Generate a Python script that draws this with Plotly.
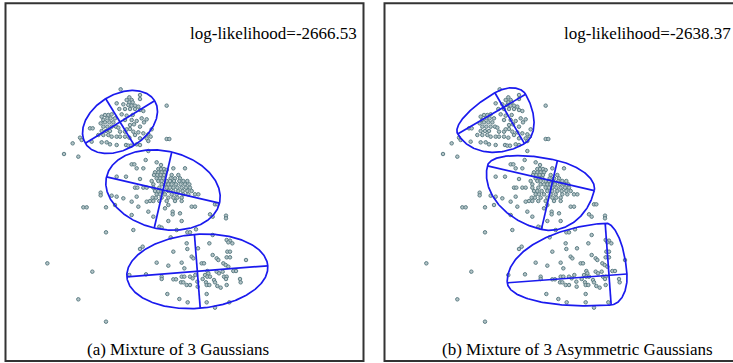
import numpy as np
import plotly.graph_objects as go

# ---- data points (same sample in both panels); units: x right, y downward ----
x_vals = [
    # upper group
    362, 388, 395, 380, 388, 398, 420, 420, 370, 385, 395, 405, 415, 350, 358, 375, 390, 405, 420, 430,
    305, 315, 325, 335, 310, 322, 332, 345, 302, 315, 328, 340, 310, 322, 335, 348, 270, 278, 305, 318,
    330, 360, 375, 390, 402, 410, 425, 432, 420, 390, 400, 415, 430, 445, 295, 310, 325, 335, 350, 360,
    375, 388, 405, 420, 440, 452, 240, 245, 275, 305, 320, 330, 350, 378, 385, 393, 410, 420, 445, 218,
    500, 500, 508, 365, 380, 398, 375, 395, 440, 455, 355, 380,
    # middle group
    445, 395, 403, 437, 470, 483, 430, 410, 520, 555, 475, 483, 492, 500, 465, 475, 485, 495,
    462, 472, 482, 492, 515, 535,
    470, 480, 490, 512, 525, 540,
    455, 475, 485, 500, 510, 522, 538, 550, 562,
    460, 485, 495, 505, 515, 528, 542, 555, 568,
    460, 478, 500, 510, 520, 532, 545, 558, 570,
    465, 475, 488, 505, 520, 535, 548, 562, 575,
    470, 480, 495, 515, 530, 550, 565, 585, 595,
    458, 468, 485, 505, 520, 532, 545,
    450, 460, 478, 500, 525, 545,
    350, 378, 420, 405, 412, 430, 440, 350, 370, 395, 410, 415, 440, 335, 345, 395, 445, 460, 495, 505,
    518, 518, 540, 575, 585, 630, 638, 645, 652, 678, 678, 505, 545, 478, 485, 530, 562, 570, 400,
    # lower group
    512, 588, 638, 680, 690, 685, 697, 560, 594, 562, 428, 420, 520, 628, 638, 682, 690, 575, 580, 650,
    655, 680, 690, 738, 545, 470, 505, 605, 612, 670, 677, 685, 553, 700, 708, 622, 625, 650, 657, 668,
    615, 586, 672, 680, 678, 622, 630, 485, 485, 520, 528, 545, 553, 570, 578, 543, 550, 560, 570, 592,
    608, 618, 620, 628, 642, 645, 652, 662, 680, 720, 722, 593, 502, 538, 563, 620, 620, 645, 688, 438,
    388,
    # scattered
    142, 277, 235, 318, 192, 235, 302, 302, 250, 260, 318, 318,
]
y_vals = [
    # upper group
    268, 292, 300, 300, 307, 307, 285, 297, 313, 315, 317, 317, 320, 310, 327, 327, 327, 327, 330, 333,
    350, 345, 345, 343, 360, 355, 355, 355, 370, 367, 367, 367, 380, 380, 380, 380, 385, 385, 393, 393,
    393, 395, 395, 375, 373, 363, 355, 367, 380, 387, 395, 397, 400, 403, 405, 405, 405, 410, 410, 410,
    410, 413, 405, 415, 415, 410, 413, 420, 425, 427, 427, 433, 435, 435, 437, 437, 433, 435, 423, 430,
    317, 417, 417, 343, 347, 345, 360, 360, 358, 388, 383, 388,
    # middle group
    453, 493, 493, 480, 487, 495, 505, 505, 505, 505, 507, 507, 507, 510, 517, 517, 517, 517,
    525, 525, 525, 525, 525, 525,
    535, 535, 535, 535, 535, 535,
    543, 543, 543, 543, 543, 543, 543, 543, 543,
    553, 553, 553, 553, 553, 553, 553, 553, 553,
    563, 563, 563, 563, 563, 563, 563, 563, 563,
    573, 573, 573, 573, 573, 573, 573, 573, 573,
    583, 583, 583, 583, 583, 583, 583, 583, 583,
    593, 593, 593, 593, 593, 593, 593,
    603, 603, 603, 603, 603, 603,
    530, 530, 537, 563, 563, 563, 563, 590, 595, 605, 590, 620, 605, 587, 615, 645, 635, 650, 625, 615,
    635, 643, 640, 620, 620, 643, 650, 613, 613, 647, 655, 663, 663, 680, 683, 690, 697, 697, 690,
    # lower group
    712, 688, 705, 720, 722, 727, 730, 730, 745, 747, 740, 747, 755, 730, 765, 755, 755, 770, 775, 775,
    780, 772, 772, 780, 788, 788, 797, 790, 790, 790, 795, 800, 805, 813, 813, 813, 820, 815, 820, 815,
    825, 825, 830, 830, 837, 830, 830, 830, 837, 838, 838, 830, 830, 830, 835, 847, 847, 855, 855, 845,
    837, 847, 855, 855, 840, 847, 858, 863, 855, 837, 847, 860, 882, 897, 907, 882, 907, 923, 907, 823,
    825,
    # scattered
    790, 815, 898, 965, 462, 470, 578, 586, 622, 622, 622, 697,
]

# ---- (a) Gaussian components: centre, semi-axes, orientation (deg) ----
g_cx = [360, 489, 592]
g_cy = [366, 570, 814]
g_a = [122, 174, 212]
g_b = [82, 117, 111]
g_ang = [-31.5, 13.0, -4.5]

# ---- (b) asymmetric Gaussian components: centre, orientation, 4 half-widths ----
ag_cx = [373, 521, 690]
ag_cy = [322, 543, 826]
ag_ang = [-30.2, 13.1, -4.2]
ag_a_pos = [77.5, 128, 54]
ag_a_neg = [158.5, 201, 306]
ag_b_pos = [126, 149, 89]
ag_b_neg = [50.6, 63, 157]

titles = ["(a) Mixture of 3 Gaussians", "(b) Mixture of 3 Asymmetric Gaussians"]
loglik = ["log-likelihood=-2666.53", "log-likelihood=-2638.37"]

W, H = 733, 363
BLUE = "#1a1aee"
PT_FILL = "#b3c4c7"
PT_LINE = "#5f7f86"
FONT = "Liberation Serif, Times New Roman, serif"


def contour(cx, cy, ang, ap, an, bp, bn, n=361):
    t = np.linspace(0, 2 * np.pi, n)
    th = np.deg2rad(ang)
    ux, uy = np.cos(th), np.sin(th)
    vx, vy = -np.sin(th), np.cos(th)
    a = np.where(np.cos(t) >= 0, ap, an)
    b = np.where(np.sin(t) >= 0, bp, bn)
    x = cx + a * np.cos(t) * ux + b * np.sin(t) * vx
    y = cy + a * np.cos(t) * uy + b * np.sin(t) * vy
    # principal axes
    ax_x = [cx - an * ux, cx + ap * ux, None, cx - bn * vx, cx + bp * vx, None]
    ax_y = [cy - an * uy, cy + ap * uy, None, cy - bn * vy, cy + bp * vy, None]
    return list(x) + [None] + ax_x, list(y) + [None] + ax_y


fig = go.Figure()

panels = [
    dict(xa="x", ya="y", comps=[(g_cx[i], g_cy[i], g_ang[i], g_a[i], g_a[i], g_b[i], g_b[i]) for i in range(3)]),
    dict(xa="x2", ya="y2", comps=[(ag_cx[i], ag_cy[i], ag_ang[i], ag_a_pos[i], ag_a_neg[i], ag_b_pos[i], ag_b_neg[i]) for i in range(3)]),
]

for p in panels:
    fig.add_trace(go.Scatter(
        x=x_vals, y=y_vals, mode="markers", xaxis=p["xa"], yaxis=p["ya"],
        marker=dict(size=3.5, color=PT_FILL, line=dict(color=PT_LINE, width=1)),
        hoverinfo="skip", showlegend=False, cliponaxis=False,
    ))
    ex, ey = [], []
    for c in p["comps"]:
        cx_, cy_ = contour(*c)
        ex += cx_
        ey += cy_
    fig.add_trace(go.Scatter(
        x=ex, y=ey, mode="lines", xaxis=p["xa"], yaxis=p["ya"],
        line=dict(color=BLUE, width=1.7), hoverinfo="skip", showlegend=False,
    ))

# panel pixel geometry
pa_left, pa_right = 5.5, 363.5
pb_left, pb_right = 384.5, 742.5
p_top, p_bot = 3.2, 361.0
scale = 3.0  # data units per pixel
x0 = scale * pa_left

ydom = [(H - p_bot) / H, (H - p_top) / H]
fig.update_layout(
    width=W, height=H,
    margin=dict(l=0, r=0, t=0, b=0),
    paper_bgcolor="white", plot_bgcolor="white",
    showlegend=False,
    xaxis=dict(domain=[pa_left / W, pa_right / W], range=[x0, x0 + scale * (pa_right - pa_left)], visible=False),
    yaxis=dict(domain=ydom, range=[scale * p_bot, scale * p_top], visible=False),
    xaxis2=dict(domain=[pb_left / W, 1.0], range=[x0, x0 + scale * (W - pb_left)], visible=False, anchor="y2"),
    yaxis2=dict(domain=ydom, range=[scale * p_bot, scale * p_top], visible=False, anchor="x2"),
)

for l, r in [(pa_left, pa_right), (pb_left, pb_right)]:
    fig.add_shape(type="rect", xref="paper", yref="paper",
                  x0=l / W, x1=r / W, y0=(H - p_bot) / H, y1=(H - p_top) / H,
                  line=dict(color="#333333", width=2), layer="above")

cap_x = [177.5, 577.5]
ll_x = [358.5, 732.5]
for i in range(2):
    fig.add_annotation(text=loglik[i], xref="paper", yref="paper",
                       x=ll_x[i] / W, y=(H - 33) / H, xanchor="right", yanchor="middle",
                       showarrow=False, font=dict(family=FONT, size=17, color="black"))
    fig.add_annotation(text=titles[i], xref="paper", yref="paper",
                       x=cap_x[i] / W, y=(H - 349.5) / H, xanchor="center", yanchor="middle",
                       showarrow=False, font=dict(family=FONT, size=17, color="black"))

fig.write_html(
    "out.html",
    config={"displayModeBar": False},
    post_script="document.body.style.margin='0';document.body.style.overflow='hidden';",
)
